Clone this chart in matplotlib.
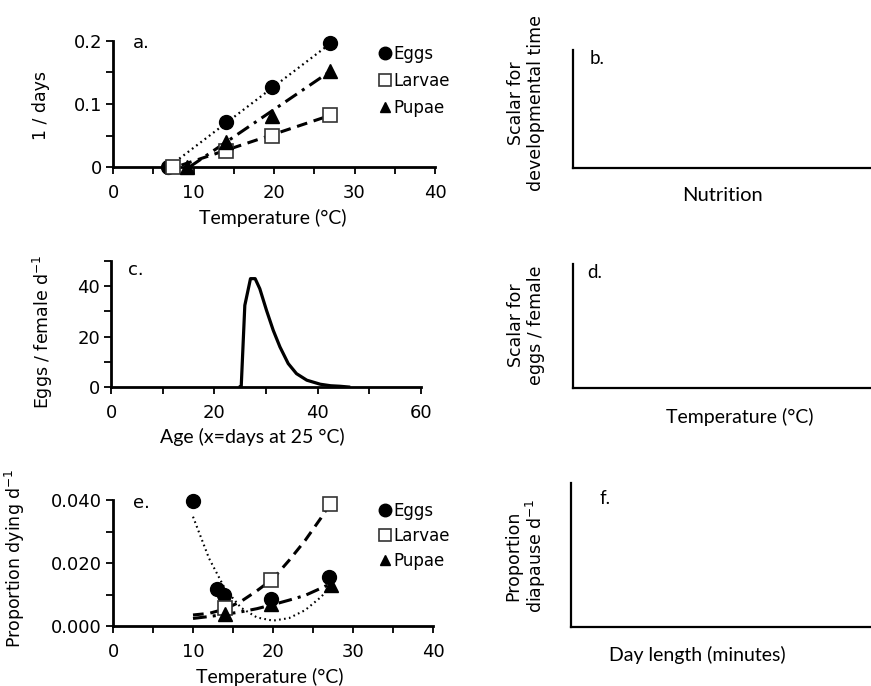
import matplotlib
matplotlib.use('Agg')
import matplotlib.pyplot as plt
from matplotlib.ticker import MultipleLocator, FixedLocator

# panel a: development rate vs temperature
dev_temp_eggs = [6.8, 14.0, 19.7, 27.0]
dev_rate_eggs = [0.0, 0.071, 0.127, 0.197]
dev_temp_larvae = [7.5, 14.0, 19.7, 27.0]
dev_rate_larvae = [0.0, 0.025, 0.050, 0.082]
dev_temp_pupae = [9.2, 14.0, 19.7, 27.0]
dev_rate_pupae = [0.0, 0.039, 0.081, 0.153]
# fitted lines, panel a
fit_a_eggs_x = [7.7, 27.0]
fit_a_eggs_y = [0.008, 0.196]
fit_a_larvae_x = [8.5, 27.0]
fit_a_larvae_y = [0.003, 0.082]
fit_a_pupae_x = [9.5, 27.0]
fit_a_pupae_y = [0.0, 0.152]

# panel c: fecundity vs age
age = [25.0, 25.2, 25.9, 27.0, 27.9, 28.8, 30.1, 31.4, 32.7, 34.3, 35.9, 37.9, 40.5, 42.5, 44.3, 46.0]
eggs_per_female = [0.0, 0.0, 32.4, 43.0, 43.0, 39.0, 30.4, 22.5, 15.9, 9.3, 5.3, 2.7, 1.1, 0.5, 0.3, 0.0]

# panel e: mortality vs temperature
mort_temp_eggs = [10.0, 13.0, 13.9, 19.7, 27.0]
mort_eggs = [0.0397, 0.0117, 0.0098, 0.0086, 0.0155]
mort_temp_larvae = [14.0, 19.75, 27.1]
mort_larvae = [0.0058, 0.0147, 0.0387]
mort_temp_pupae = [14.0, 19.7, 27.2]
mort_pupae = [0.0037, 0.0071, 0.0131]
fit_e_x = [10, 12, 14, 16, 18, 20, 22, 24, 26, 27]
fit_e_eggs = [0.0347, 0.0215, 0.0118, 0.0058, 0.0027, 0.0017, 0.0025, 0.0050, 0.0092, 0.0120]
fit_e_larvae = [0.0035, 0.0040, 0.0054, 0.0078, 0.0112, 0.0150, 0.0208, 0.0271, 0.0343, 0.0383]
fit_e_pupae = [0.0024, 0.0030, 0.0037, 0.0045, 0.0055, 0.0068, 0.0082, 0.0097, 0.0120, 0.0132]

legends = ['Eggs', 'Larvae', 'Pupae']

plt.rcParams['font.family'] = 'DejaVu Sans'
calibri = 'Lato'
W, H = 871.0, 686.0

fig = plt.figure(figsize=(8.71, 6.86), dpi=100)


def px_axes(left, top, right, bottom):
    return fig.add_axes([left / W, 1 - bottom / H, (right - left) / W, (bottom - top) / H])


def style_axis(ax, lw=2.0):
    for s in ['top', 'right']:
        ax.spines[s].set_visible(False)
    for s in ['left', 'bottom']:
        ax.spines[s].set_linewidth(lw)
    ax.tick_params(which='both', direction='out', length=5, width=1.3, labelsize=13)
    ax.tick_params(axis='x', pad=7)
    ax.tick_params(axis='y', pad=3)


eggs_kw = dict(color='black', marker='o', markersize=10, linestyle='none', zorder=4, clip_on=False)
larvae_kw = dict(color='white', marker='s', markersize=10, markeredgecolor='#333333',
                 markeredgewidth=1.2, linestyle='none', zorder=4, clip_on=False)
pupae_kw = dict(color='black', marker='^', markersize=10, linestyle='none', zorder=4, clip_on=False)


def add_legend(ax, handles, y_mid, spacing):
    leg = ax.legend(handles, legends, loc='center left', bbox_to_anchor=(378 / W, 1 - y_mid / H),
                    bbox_transform=fig.transFigure, frameon=False, fontsize=12,
                    handlelength=0.8, handletextpad=0.1, labelspacing=spacing,
                    borderpad=0, borderaxespad=0)
    sizes = [9, 8.5, 6.5]
    for h, s in zip(leg.legend_handles, sizes):
        h.set_markersize(s)
    return leg


# ---- panel a
ax = px_axes(113, 41, 435, 167)
style_axis(ax)
ax.plot(fit_a_eggs_x, fit_a_eggs_y, color='black', lw=1.6, dashes=(0.8, 1.6))
ax.plot(fit_a_larvae_x, fit_a_larvae_y, color='black', lw=2.2, dashes=(3.5, 2.2))
ax.plot(fit_a_pupae_x, fit_a_pupae_y, color='black', lw=2.2, dashes=(4.5, 2, 1, 2))
h1, = ax.plot(dev_temp_eggs, dev_rate_eggs, **eggs_kw)
h2, = ax.plot(dev_temp_larvae, dev_rate_larvae, **larvae_kw)
h3, = ax.plot(dev_temp_pupae, dev_rate_pupae, **pupae_kw)
ax.set_xlim(0, 40)
ax.set_ylim(0, 0.2)
ax.xaxis.set_major_locator(MultipleLocator(10))
ax.xaxis.set_minor_locator(MultipleLocator(5))
ax.set_yticks([0, 0.1, 0.2], ['0', '0.1', '0.2'])
ax.yaxis.set_minor_locator(MultipleLocator(0.05))
add_legend(ax, [h1, h2, h3], 81, 0.55)

# ---- panel c
ax = px_axes(111, 261, 421, 387)
style_axis(ax)
ax.plot(age, eggs_per_female, color='black', lw=2.3, solid_joinstyle='round')
ax.set_xlim(0, 60)
ax.set_ylim(0, 50)
ax.xaxis.set_major_locator(MultipleLocator(20))
ax.xaxis.set_minor_locator(MultipleLocator(10))
ax.yaxis.set_major_locator(FixedLocator([0, 20, 40]))
ax.yaxis.set_minor_locator(MultipleLocator(10))

# ---- panel e
ax = px_axes(113, 500, 433, 626)
style_axis(ax)
ax.plot(fit_e_x, fit_e_eggs, color='black', lw=1.5, dashes=(0.8, 1.6))
ax.plot(fit_e_x, fit_e_larvae, color='black', lw=2.2, dashes=(3.5, 2.2))
ax.plot(fit_e_x, fit_e_pupae, color='black', lw=2.2, dashes=(4.5, 2, 1, 2))
h1, = ax.plot(mort_temp_eggs, mort_eggs, **eggs_kw)
h2, = ax.plot(mort_temp_larvae, mort_larvae, **larvae_kw)
h3, = ax.plot(mort_temp_pupae, mort_pupae, **pupae_kw)
ax.set_xlim(0, 40)
ax.set_ylim(0, 0.04)
ax.xaxis.set_major_locator(MultipleLocator(10))
ax.xaxis.set_minor_locator(MultipleLocator(5))
ax.set_yticks([0, 0.02, 0.04], ['0.000', '0.020', '0.040'])
ax.yaxis.set_minor_locator(MultipleLocator(0.01))
add_legend(ax, [h1, h2, h3], 536, 0.4)

# ---- empty schematic panels b, d, f
for (l, t, b) in [(573, 50, 168), (573, 264, 388), (571, 483, 627)]:
    ax = px_axes(l, t, 871, b)
    for s in ['top', 'right']:
        ax.spines[s].set_visible(False)
    for s in ['left', 'bottom']:
        ax.spines[s].set_linewidth(1.6)
    ax.set_xticks([])
    ax.set_yticks([])

# ---- text
def ftext(x, y, s, **kw):
    fig.text(x / W, 1 - y / H, s, **kw)

ftext(133, 43, 'a.', fontsize=13, ha='left', va='center')
ftext(128, 270, 'c.', fontsize=13, ha='left', va='center')
ftext(133, 503, 'e.', fontsize=13, ha='left', va='center')
ftext(590, 58, 'b.', fontsize=13.5, ha='left', va='center', family=calibri)
ftext(587, 272, 'd.', fontsize=13.5, ha='left', va='center', family=calibri)
ftext(599, 498, 'f.', fontsize=13.5, ha='left', va='center', family=calibri)

ftext(273, 218, 'Temperature (°C)', fontsize=14, ha='center', va='center', family=calibri)
ftext(252, 437, 'Age (x=days at 25 °C)', fontsize=14, ha='center', va='center', family=calibri)
ftext(270, 677, 'Temperature (°C)', fontsize=14, ha='center', va='center', family=calibri)
ftext(722, 195, 'Nutrition', fontsize=14.5, ha='center', va='center', family=calibri)
ftext(740, 417, 'Temperature (°C)', fontsize=14, ha='center', va='center', family=calibri)
ftext(697, 655, 'Day length (minutes)', fontsize=14, ha='center', va='center', family=calibri)

ftext(41, 105, '1 / days', fontsize=12.5, rotation=90, ha='center', va='center')
ftext(43, 332, 'Eggs / female d$^{-1}$', fontsize=12.5, rotation=90, ha='center', va='center')
ftext(15, 558, 'Proportion dying d$^{-1}$', fontsize=12.5, rotation=90, ha='center', va='center')
ftext(526, 103, 'Scalar for\ndevelopmental time', fontsize=12.5, rotation=90,
      ha='center', va='center', multialignment='center', linespacing=1.1)
ftext(526, 325, 'Scalar for\neggs / female', fontsize=12.5, rotation=90,
      ha='center', va='center', multialignment='center', linespacing=1.1)
ftext(526, 556, 'Proportion\ndiapause d$^{-1}$', fontsize=12.5, rotation=90,
      ha='center', va='center', multialignment='center', linespacing=1.1)

fig.savefig('out.png', dpi=100)
